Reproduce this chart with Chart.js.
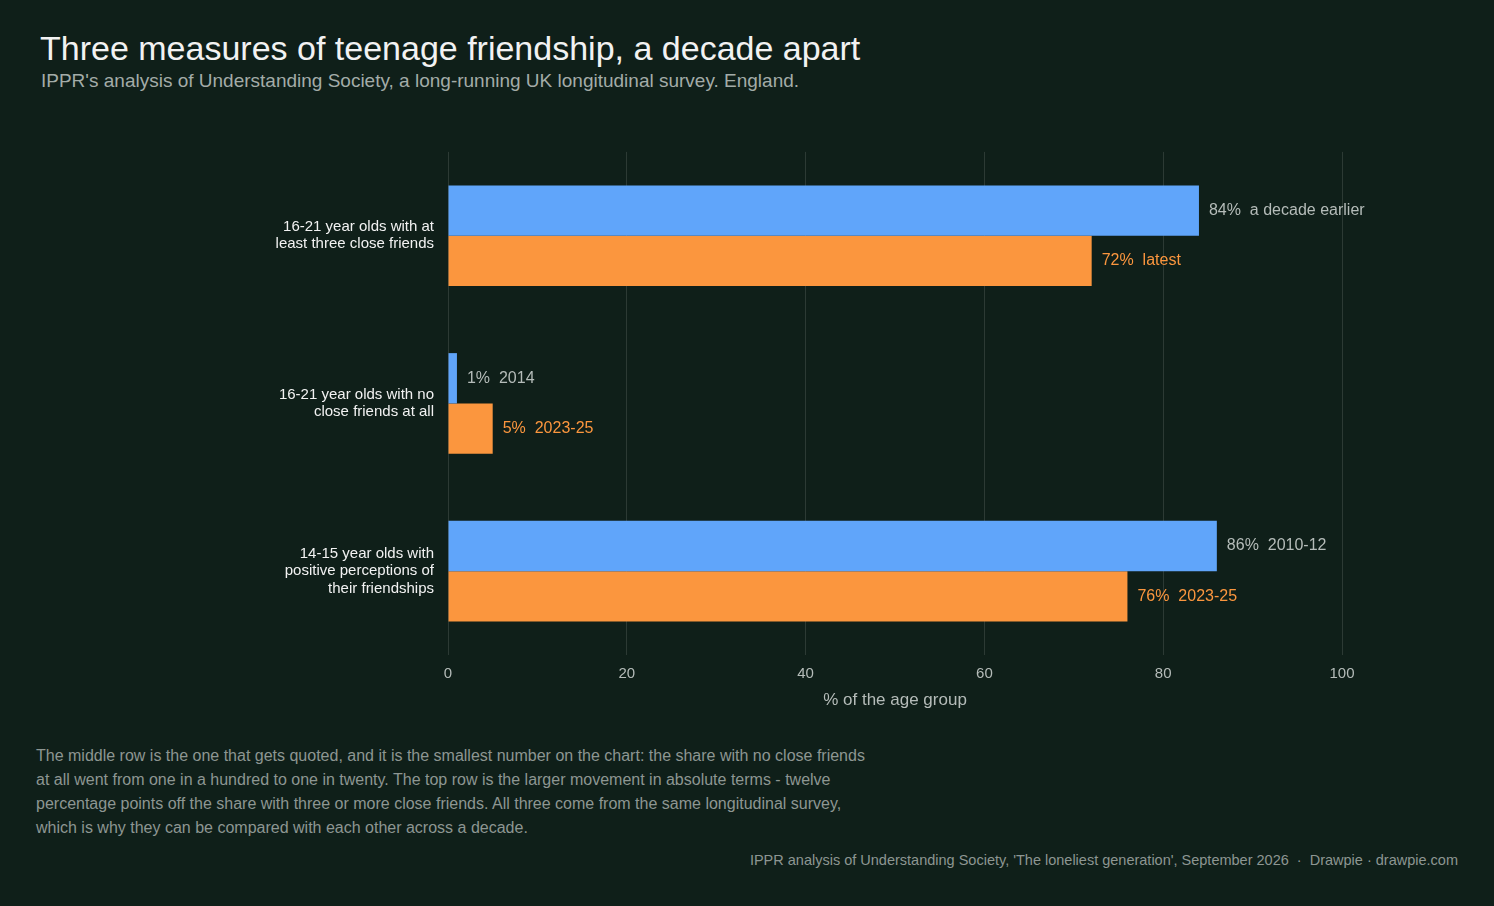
<!DOCTYPE html>
<html><head><meta charset="utf-8">
<script src="https://cdn.jsdelivr.net/npm/chart.js@4"></script>
<style>
body{margin:0;width:1494px;height:906px;background:#0f1f19;font-family:"Liberation Sans",Arial,sans-serif;overflow:hidden;position:relative}
#t{position:absolute;left:40px;top:29px;font-size:34px;color:#f2f2f2}
#s{position:absolute;left:41px;top:70px;font-size:19px;color:#a3aca8}
#c{position:absolute;left:0;top:120px;width:1494px;height:595px}
#n{position:absolute;left:36px;top:744px;width:830px;font-size:16px;line-height:24px;color:#8d9692}
#f{position:absolute;right:36px;top:852px;font-size:14.5px;color:#8d9692}
</style></head><body>
<div id="t">Three measures of teenage friendship, a decade apart</div>
<div id="s">IPPR's analysis of Understanding Society, a long-running UK longitudinal survey. England.</div>
<div id="c"><canvas id="cv"></canvas></div>
<div id="n">The middle row is the one that gets quoted, and it is the smallest number on the chart: the share with no close friends at all went from one in a hundred to one in twenty. The top row is the larger movement in absolute terms - twelve percentage points off the share with three or more close friends. All three come from the same longitudinal survey, which is why they can be compared with each other across a decade.</div>
<div id="f">IPPR analysis of Understanding Society, 'The loneliest generation', September 2026 &nbsp;·&nbsp; Drawpie · drawpie.com</div>
<script>
const categories=[["16-21 year olds with at","least three close friends"],["16-21 year olds with no","close friends at all"],["14-15 year olds with","positive perceptions of","their friendships"]];
const earlier=[84,1,86];
const latest=[72,5,76];
const earlierLabels=["a decade earlier","2014","2010-12"];
const latestLabels=["latest","2023-25","2023-25"];
const xTicks=[0,20,40,60,80,100];
const labelPlugin={id:'lbl',afterDatasetsDraw(ch){const c=ch.ctx;c.save();c.font='16px "Liberation Sans", Arial';c.textBaseline='middle';
ch.data.datasets.forEach((ds,i)=>{ch.getDatasetMeta(i).data.forEach((b,j)=>{c.fillStyle=i?'#fb963e':'#b5bcb9';c.fillText(ds.data[j]+'%  '+ds.tags[j],b.x+10,b.y);});});c.restore();}};
new Chart(document.getElementById('cv'),{type:'bar',
data:{labels:categories,datasets:[
{data:earlier,tags:earlierLabels,backgroundColor:'#60a5fa',barPercentage:1,categoryPercentage:0.6},
{data:latest,tags:latestLabels,backgroundColor:'#fb963e',barPercentage:1,categoryPercentage:0.6}]},
options:{indexAxis:'y',responsive:true,maintainAspectRatio:false,animation:false,
layout:{padding:{top:13,right:152,left:0,bottom:0}},
plugins:{legend:{display:false},tooltip:{enabled:false}},
scales:{
x:{min:0,max:100,afterBuildTicks:s=>{s.ticks=xTicks.map(v=>({value:v}));},
grid:{color:'rgba(255,255,255,0.12)',drawTicks:false},border:{display:false},
ticks:{color:'#b5bcb9',font:{size:15,family:'"Liberation Sans", Arial'},padding:10},
title:{display:true,text:'% of the age group',color:'#b5bcb9',font:{size:17,family:'"Liberation Sans", Arial'},padding:{top:4}},
afterFit:s=>{s.height=60;}},
y:{grid:{display:false},border:{display:false},
ticks:{color:'#f2f2f2',font:{size:15,family:'"Liberation Sans", Arial',lineHeight:1.15},padding:6},
afterFit:s=>{s.width=448;}}}},
plugins:[labelPlugin]});
</script></body></html>
